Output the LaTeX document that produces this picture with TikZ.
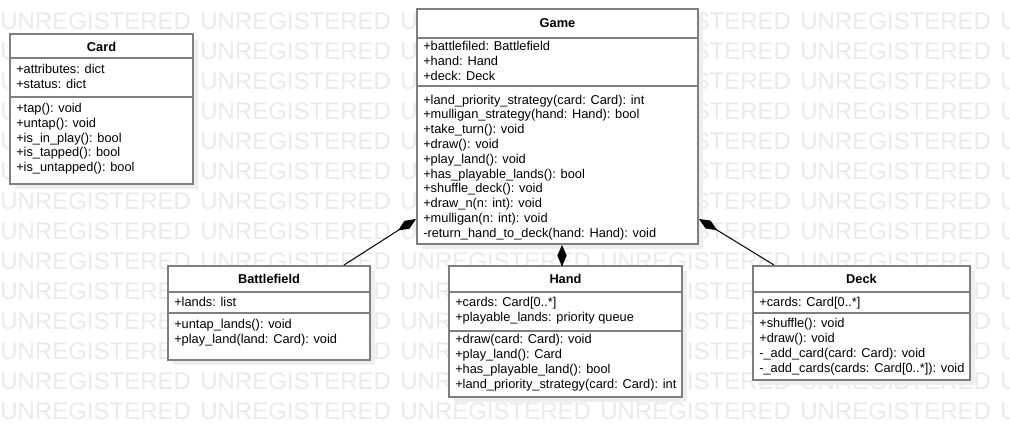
\documentclass[tikz,border=0pt]{standalone}
\usepackage{fontspec}
\setmainfont{Liberation Sans}
\usetikzlibrary{arrows.meta,calc,fit}
\definecolor{boxgray}{HTML}{7F7F7F}
\definecolor{wmgray}{HTML}{EAEAEA}
\definecolor{shadowgray}{HTML}{EEEEEE}
\newcommand\umlbox[9]{% name, x1, y1, x2, y2, div1, div2, title, title baseline
  \fill[shadowgray] (#2+5,#3+5) rectangle (#4+5,#5+5);
  \node[classbox, fit={(#2,#3) (#4,#5)}] (#1) {};
  \draw[divider] (#2,#6) -- (#4,#6);
  \draw[divider] (#2,#7) -- (#4,#7);
  \node[classtitle] (#1-title) at ({(#2+#4)/2},#9) {#8};
}
\newcommand\umlmembers[5]{% prefix, x, first baseline, step, list
  \foreach \t [count=\i] in {#5} \node[member] (#1\i) at (#2,{#3+#4*(\i-1)}) {\t};
}
\begin{document}
\begin{tikzpicture}[x=0.75pt,y=-0.75pt,
  classbox/.style={draw=boxgray, line width=1.5pt, fill=white, inner sep=0pt},
  divider/.style={draw=boxgray, line width=1.5pt},
  member/.style={anchor=base west, inner sep=0pt, font=\fontsize{9.6}{11.5}\selectfont},
  classtitle/.style={anchor=base, inner sep=0pt, font=\fontsize{9.6}{11.5}\selectfont\bfseries},
  wm/.style={anchor=base west, inner sep=0pt, text=wmgray, font=\fontsize{18}{20}\selectfont},
  comp/.style={draw=black, line width=0.75pt, {Diamond[length=16pt,width=7pt]}-}
]
\useasboundingbox (0,0) rectangle (1010,436);
\fill[white] (0,0) rectangle (1010,436);
\begin{scope}
  \clip (0,0) rectangle (1010,436);
  \foreach \r in {0,...,13}
    \foreach \c in {0,...,5}
      \node[wm] (wm-\r-\c) at (200*\c,29.5+30*\r) {UNREGISTERED};
\end{scope}

% Card
\umlbox{card}{10}{34}{193}{184}{58}{97}{Card}{51}
\umlmembers{card-a}{16}{73.5}{15}{{+attributes: dict},{+status: dict}}
\umlmembers{card-m}{16}{112.5}{14.8}{{+tap(): void},{+untap(): void},{+is\_in\_play(): bool},{+is\_tapped(): bool},{+is\_untapped(): bool}}

% Game
\umlbox{game}{417}{9}{698}{244}{38}{86}{Game}{27}
\umlmembers{game-a}{423}{50}{15}{{+battlefiled: Battlefield},{+hand: Hand},{+deck: Deck}}
\umlmembers{game-m}{423}{104}{14.8}{{+land\_priority\_strategy(card: Card): int},{+mulligan\_strategy(hand: Hand): bool},{+take\_turn(): void},{+draw(): void},{+play\_land(): void},{+has\_playable\_lands(): bool},{+shuffle\_deck(): void},{+draw\_n(n: int): void},{+mulligan(n: int): void},{-return\_hand\_to\_deck(hand: Hand): void}}

% Battlefield
\umlbox{battlefield}{168}{266}{370}{360}{292}{313}{Battlefield}{283}
\umlmembers{battlefield-a}{174}{306}{15}{{+lands: list}}
\umlmembers{battlefield-m}{174}{328}{15}{{+untap\_lands(): void},{+play\_land(land: Card): void}}

% Hand
\umlbox{hand}{449}{266}{682}{397}{292}{331}{Hand}{283}
\umlmembers{hand-a}{455}{306.5}{15}{{+cards: Card[0..*]},{+playable\_lands: priority queue}}
\umlmembers{hand-m}{455}{343.5}{14.9}{{+draw(card: Card): void},{+play\_land(): Card},{+has\_playable\_land(): bool},{+land\_priority\_strategy(card: Card): int}}

% Deck
\umlbox{deck}{753}{266}{970}{380}{292}{313}{Deck}{283}
\umlmembers{deck-a}{759}{306}{15}{{+cards: Card[0..*]}}
\umlmembers{deck-m}{759}{327}{15}{{+shuffle(): void},{+draw(): void},{-\_add\_card(card: Card): void},{-\_add\_cards(cards: Card[0..*]): void}}

% Compositions
\draw[comp] ($(game.south west)+(0,-26)$) -- ($(battlefield.north west)+(177,0)$);
\path ($(game.south)+(4.5,0)$) coordinate (hg);
\draw[comp] (hg) -- (hg |- hand.north);
\draw[comp] ($(game.south east)+(0,-26)$) -- ($(deck.north west)+(22,0)$);
\end{tikzpicture}
\end{document}
